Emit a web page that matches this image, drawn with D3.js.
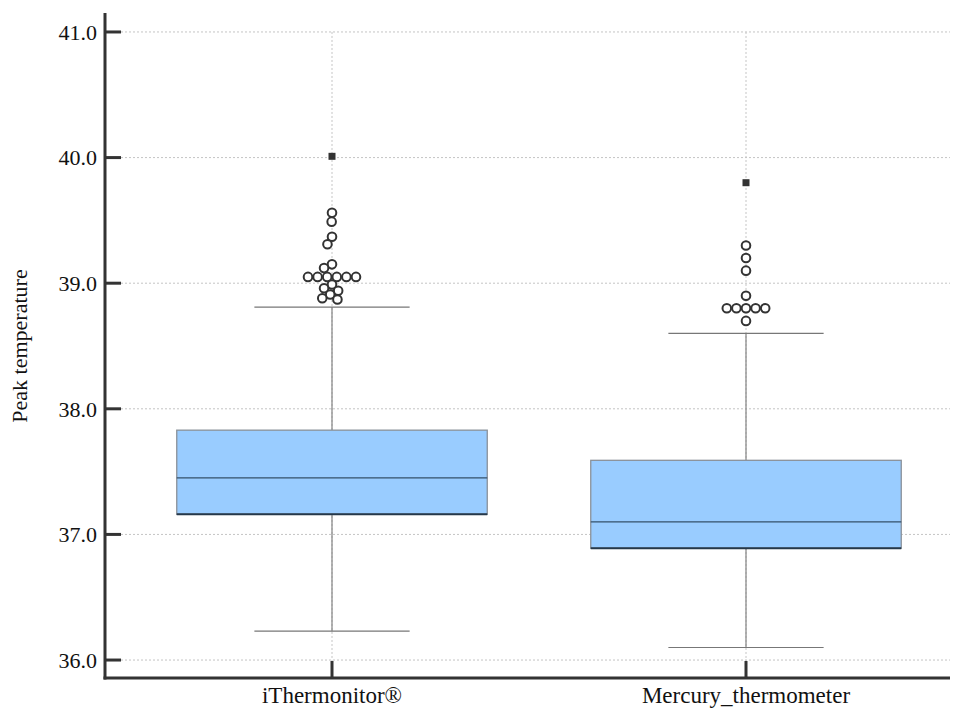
<!DOCTYPE html>
<html>
<head>
<meta charset="utf-8">
<script src="https://cdn.jsdelivr.net/npm/d3@7"></script>
<style>
  body { margin: 0; background: #fff; }
  svg { display: block; }
</style>
</head>
<body>
<svg id="chart" width="964" height="711"></svg>
<script>
// ---- data ----
const categories = ["iThermonitor®", "Mercury_thermometer"];
const q1 = [37.16, 36.89];
const median = [37.45, 37.10];
const q3 = [37.83, 37.59];
const whiskerLow = [36.23, 36.10];
const whiskerHigh = [38.81, 38.60];
const outliers1 = [39.56, 39.49, 39.37, 39.31, 39.15, 39.12, 39.05, 39.05, 39.05, 39.05, 39.05, 39.05, 38.99, 38.96, 38.94, 38.91, 38.88, 38.87];
const outliers2 = [39.30, 39.20, 39.10, 38.90, 38.80, 38.80, 38.80, 38.80, 38.80, 38.70];
const extremes1 = [40.01];
const extremes2 = [39.80];
const yTicks = [36, 37, 38, 39, 40, 41];
const yLabel = "Peak temperature";

// ---- layout ----
const FONT = "'Liberation Serif', 'DejaVu Serif', 'Times New Roman', serif";
const svg = d3.select("#chart").attr("font-family", FONT);
const axisLeft = 105, axisRight = 950, axisBottom = 678, axisTop = 13;
const y = d3.scaleLinear().domain([35.857, 41.151]).range([axisBottom, axisTop]);
const x = d3.scalePoint().domain(categories).range([332, 746]);
const step = 414;
const boxW = step * 0.75;
const capW = boxW / 2;

// gridlines
const grid = svg.append("g");
grid.selectAll("line.h").data(yTicks).join("line")
  .attr("x1", axisLeft).attr("x2", axisRight)
  .attr("y1", d => y(d)).attr("y2", d => y(d))
  .attr("stroke", "#c4c4c4").attr("stroke-width", 1).attr("stroke-dasharray", "2,2");
grid.selectAll("line.v").data(categories).join("line")
  .attr("x1", d => x(d)).attr("x2", d => x(d))
  .attr("y1", y(41)).attr("y2", axisBottom)
  .attr("stroke", "#c4c4c4").attr("stroke-width", 1).attr("stroke-dasharray", "2,2");

// boxes
const stats = categories.map((c, i) => ({
  c, q1: q1[i], med: median[i], q3: q3[i], lo: whiskerLow[i], hi: whiskerHigh[i],
  out: i === 0 ? outliers1 : outliers2,
  ext: i === 0 ? extremes1 : extremes2
}));

const g = svg.append("g");
stats.forEach(s => {
  const cx = x(s.c);
  g.append("line").attr("x1", cx).attr("x2", cx).attr("y1", y(s.q3)).attr("y2", y(s.hi))
    .attr("stroke", "#8c8c8c").attr("stroke-width", 1.3);
  g.append("line").attr("x1", cx).attr("x2", cx).attr("y1", y(s.q1)).attr("y2", y(s.lo))
    .attr("stroke", "#8c8c8c").attr("stroke-width", 1.3);
  [s.hi, s.lo].forEach(v => {
    g.append("line").attr("x1", cx - capW / 2).attr("x2", cx + capW / 2)
      .attr("y1", y(v)).attr("y2", y(v))
      .attr("stroke", "#777").attr("stroke-width", 1.2);
  });
  g.append("rect").attr("x", cx - boxW / 2).attr("y", y(s.q3))
    .attr("width", boxW).attr("height", y(s.q1) - y(s.q3))
    .attr("fill", "#99ccff").attr("stroke", "#8a9199").attr("stroke-width", 1.3);
  g.append("line").attr("x1", cx - boxW / 2).attr("x2", cx + boxW / 2)
    .attr("y1", y(s.q1)).attr("y2", y(s.q1))
    .attr("stroke", "#25384a").attr("stroke-width", 2);
  g.append("line").attr("x1", cx - boxW / 2).attr("x2", cx + boxW / 2)
    .attr("y1", y(s.med)).attr("y2", y(s.med))
    .attr("stroke", "#34506a").attr("stroke-width", 1.2);

  // outliers - beeswarm dodge
  const r = 4.3, sep = 8.8;
  const placed = [];
  const counts = d3.rollup(s.out, v => v.length, d => d);
  const groups = Array.from(counts, ([v, n]) => ({ v, n })).sort((a, b) => b.n - a.n);
  groups.filter(gr => gr.n > 1).forEach(gr => {
    for (let k = 0; k < gr.n; k++) {
      placed.push({ v: gr.v, dx: (k - (gr.n - 1) / 2) * 9.6 });
    }
  });
  const singles = groups.filter(gr => gr.n === 1).map(gr => gr.v).sort((a, b) => b - a);
  singles.forEach(v => {
    const py = y(v);
    const cands = [0];
    placed.forEach(p => {
      const dy = Math.abs(y(p.v) - py);
      if (dy < sep) {
        const w = Math.sqrt(sep * sep - dy * dy);
        cands.push(p.dx + w, p.dx - w);
      }
    });
    cands.sort((a, b) => Math.abs(a) - Math.abs(b) || a - b);
    const ok = cands.find(c => placed.every(p => {
      const dy = y(p.v) - py, dx = p.dx - c;
      return dx * dx + dy * dy >= sep * sep - 0.01;
    }));
    placed.push({ v, dx: ok });
  });
  g.selectAll(null).data(placed).join("circle")
    .attr("cx", d => cx + d.dx).attr("cy", d => y(d.v)).attr("r", r)
    .attr("fill", "#fff").attr("stroke", "#333").attr("stroke-width", 2);
  g.selectAll(null).data(s.ext).join("rect")
    .attr("x", cx - 3.5).attr("y", d => y(d) - 3.5).attr("width", 7).attr("height", 7)
    .attr("fill", "#333");
});

// axes
const ax = svg.append("g");
ax.append("line").attr("x1", axisLeft).attr("x2", axisLeft).attr("y1", axisTop).attr("y2", axisBottom + 1.5)
  .attr("stroke", "#333").attr("stroke-width", 3);
ax.append("line").attr("x1", axisLeft - 1.5).attr("x2", axisRight).attr("y1", axisBottom).attr("y2", axisBottom)
  .attr("stroke", "#333").attr("stroke-width", 3);
ax.selectAll("line.yt").data(yTicks).join("line")
  .attr("x1", axisLeft).attr("x2", axisLeft + 16)
  .attr("y1", d => y(d)).attr("y2", d => y(d))
  .attr("stroke", "#333").attr("stroke-width", 3);
ax.selectAll("text.yt").data(yTicks).join("text")
  .attr("x", axisLeft - 8).attr("y", d => y(d)).attr("dy", "0.35em")
  .attr("text-anchor", "end").attr("font-size", 22).attr("fill", "#111")
  .text(d => d3.format(".1f")(d));
ax.selectAll("line.xt").data(categories).join("line")
  .attr("x1", d => x(d)).attr("x2", d => x(d))
  .attr("y1", axisBottom).attr("y2", axisBottom - 17)
  .attr("stroke", "#333").attr("stroke-width", 3);
ax.selectAll("text.xt").data(categories).join("text")
  .attr("x", d => x(d)).attr("y", 703)
  .attr("text-anchor", "middle").attr("font-size", 23).attr("fill", "#111")
  .text(d => d);
svg.append("text")
  .attr("transform", `translate(27,${(y(41) + y(36)) / 2}) rotate(-90)`)
  .attr("text-anchor", "middle").attr("font-size", 22).attr("fill", "#111")
  .text(yLabel);
</script>
</body>
</html>
